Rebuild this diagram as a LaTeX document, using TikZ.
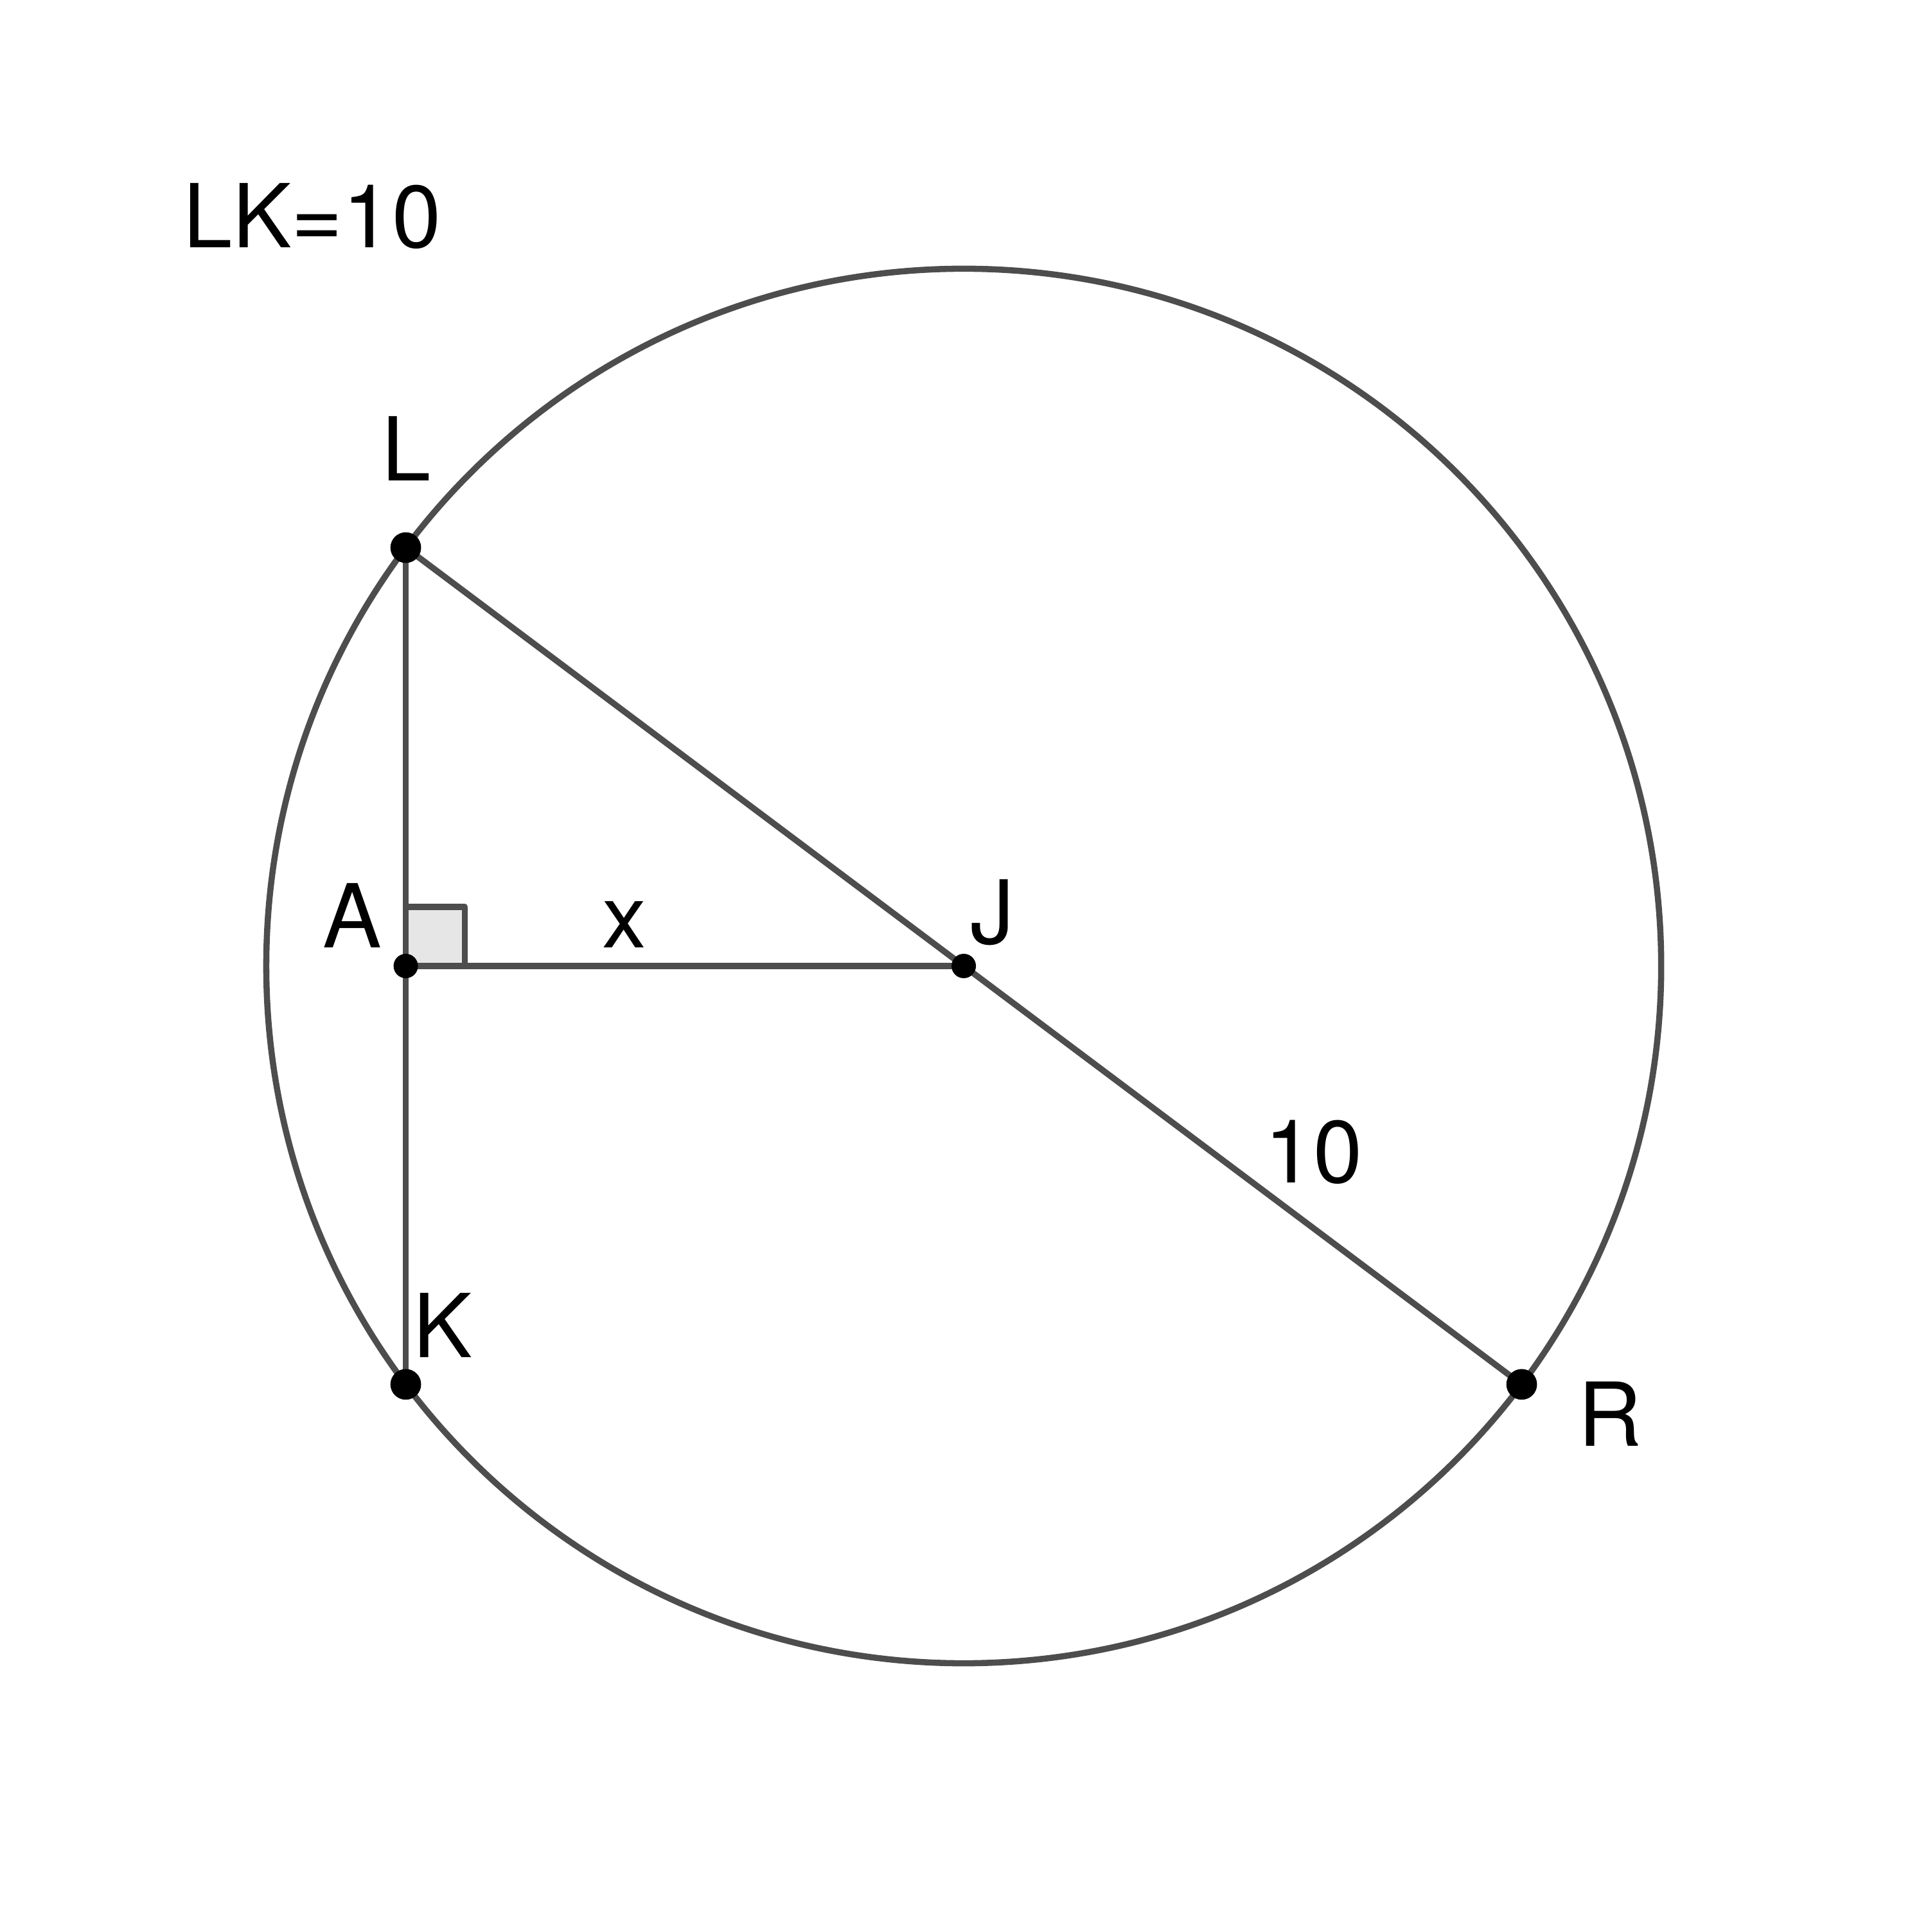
\documentclass[tikz,border=0pt]{standalone}
\usepackage{fontspec}
\setmainfont{TeX Gyre Heros}
\usepackage{xcolor}
\usepackage{tikz}
\usetikzlibrary{positioning,calc}

\definecolor{linegray}{HTML}{4D4D4D}
\definecolor{boxgray}{HTML}{E6E6E6}

\tikzset{
  seg/.style={draw=linegray, line width=1.25pt},
  bigdot/.style={circle, fill=black, inner sep=0pt, minimum size=2.2mm},
  smalldot/.style={circle, fill=black, inner sep=0pt, minimum size=1.75mm},
  lbl/.style={inner sep=0pt, anchor=base west, font=\fontsize{18}{22}\selectfont}
}

\begin{document}
\begin{tikzpicture}
  \useasboundingbox (-6.909,-6.927) rectangle (6.909,6.927);

  % points on the circle
  \coordinate (J) at (0,0);
  \coordinate (L) at (-4,3);
  \coordinate (K) at (-4,-3);
  \coordinate (R) at (4,-3);
  \coordinate (A) at (-4,0);

  \draw[seg] (J) circle (5);

  % right angle at A
  \draw[seg, fill=boxgray, line join=round] (A) rectangle ++(0.423,0.423);

  \draw[seg] (L) -- (K);
  \draw[seg] (A) -- (J);
  \draw[seg] (L) -- (R);

  \node[bigdot] (Ldot) at (L) {};
  \node[bigdot] (Kdot) at (K) {};
  \node[bigdot] (Rdot) at (R) {};
  \node[smalldot] (Adot) at (A) {};
  \node[smalldot] (Jdot) at (J) {};

  % labels
  \node[lbl] (Llbl) at (-4.18,3.48) {L};
  \node[lbl] (Albl) at (-4.6,0.133) {A};
  \node[lbl] (xlbl) at (-2.6,0.133) {x};
  \node[lbl] (Jlbl) at (0.04,0.159) {J};
  \node[lbl] (tenlbl) at (2.15,-1.555) {10};
  \node[lbl] (Klbl) at (-3.95,-2.809) {K};
  \node[lbl] (Rlbl) at (4.4,-3.445) {R};
  \node[lbl] (given) at (-5.6,5.15) {LK=10};
\end{tikzpicture}
\end{document}
